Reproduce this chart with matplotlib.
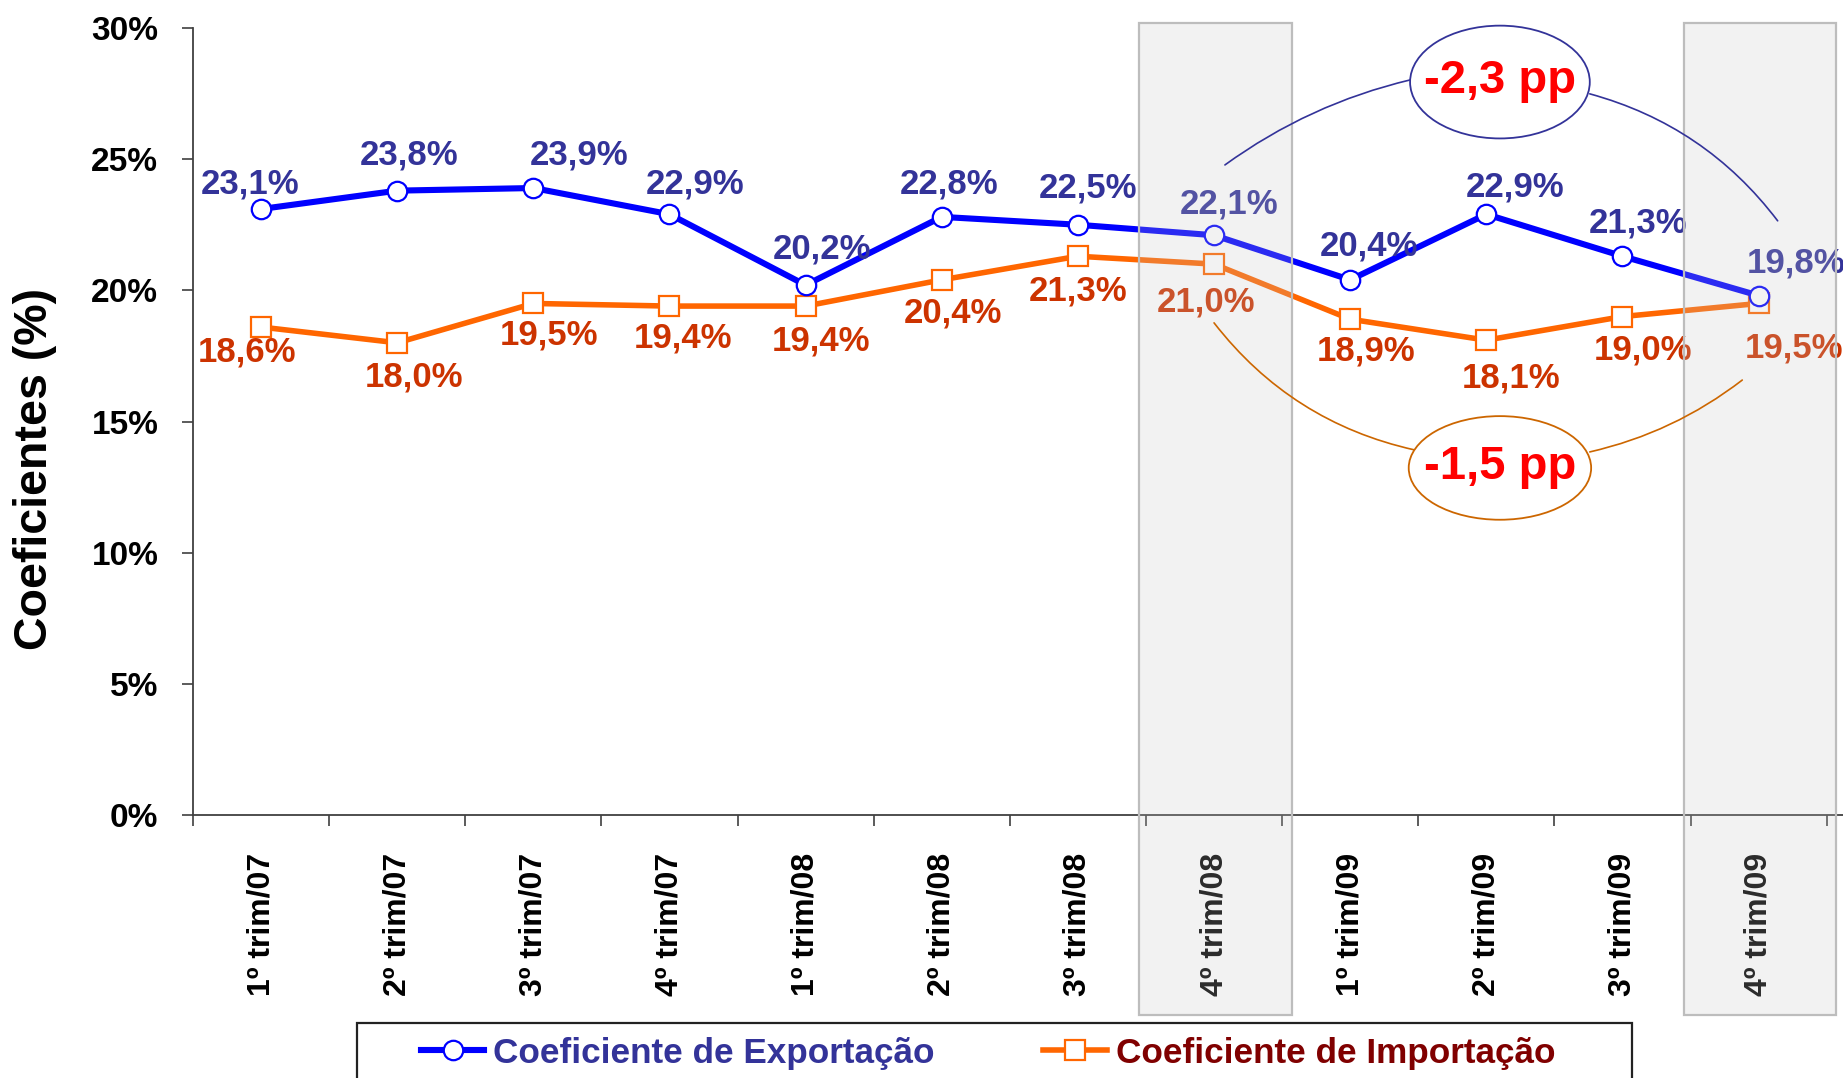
import numpy as np
import matplotlib
matplotlib.use("Agg")
import matplotlib.pyplot as plt
from matplotlib.patches import Rectangle, Ellipse
from matplotlib.transforms import blended_transform_factory

plt.rcParams['font.family'] = ['Liberation Sans', 'DejaVu Sans']
plt.rcParams['font.weight'] = 'bold'

# --- données ---
trimestres = ['1º trim/07', '2º trim/07', '3º trim/07', '4º trim/07',
              '1º trim/08', '2º trim/08', '3º trim/08', '4º trim/08',
              '1º trim/09', '2º trim/09', '3º trim/09', '4º trim/09']
coef_exp = [23.1, 23.8, 23.9, 22.9, 20.2, 22.8, 22.5, 22.1, 20.4, 22.9, 21.3, 19.8]
coef_imp = [18.6, 18.0, 19.5, 19.4, 19.4, 20.4, 21.3, 21.0, 18.9, 18.1, 19.0, 19.5]
destaques = [7, 11]  # trimestres encadrés
var_exp = "-2,3 pp"
var_imp = "-1,5 pp"

# décalage des étiquettes (pixels, x droite / y bas)
off_exp = [(-11, -25), (12, -36), (46, -33), (26, -30), (16, -36), (7, -33),
           (10, -37), (15, -31), (19, -34), (29, -27), (16, -33), (37, -33)]
off_imp = [(-14, 25), (17, 34), (16, 32), (14, 32), (15, 35), (11, 33),
           (0, 35), (-8, 38), (16, 32), (25, 38), (21, 33), (35, 45)]

W, H = 1843, 1078
fig = plt.figure(figsize=(W / 100, H / 100), dpi=100)
ax = fig.add_axes([193 / W, 1 - 815 / H, (W - 193) / W, (815 - 28) / H])

x = np.arange(len(trimestres))
l_exp, = ax.plot(x, coef_exp, color='#0000FF', lw=4.4, marker='o', ms=14,
                 mfc='white', mec='#0000FF', mew=1.6, zorder=4,
                 label='Coeficiente de Exportação')
l_imp, = ax.plot(x, coef_imp, color='#FF6600', lw=4.0, marker='s', ms=14,
                 mfc='white', mec='#FF6600', mew=1.6, zorder=3,
                 label='Coeficiente de Importação')

def fmt(v):
    return f"{v:.1f}".replace('.', ',') + '%'

for i, v in enumerate(coef_exp):
    dx, dy = off_exp[i]
    ax.annotate(fmt(v), xy=(i, v), xytext=(dx, -dy), textcoords='offset pixels',
                ha='center', va='center', fontsize=25, fontweight='bold',
                color='#333399', zorder=5)
for i, v in enumerate(coef_imp):
    dx, dy = off_imp[i]
    ax.annotate(fmt(v), xy=(i, v), xytext=(dx, -dy), textcoords='offset pixels',
                ha='center', va='center', fontsize=25, fontweight='bold',
                color='#CC3300', zorder=5)

# axes
ax.set_xlim(-0.5, 11.62)
ax.set_ylim(0, 30)
ax.set_yticks(np.arange(0, 31, 5))
ax.set_yticklabels([f"{t}%" for t in range(0, 31, 5)], fontsize=24, fontweight='bold')
ax.tick_params(axis='y', length=8, width=1.2, color='#404040', pad=17)
ax.set_xticks(x)
ax.set_xticklabels(trimestres, rotation=90, fontsize=23, fontweight='bold')
ax.set_xticks(np.arange(-0.5, 12, 1), minor=True)
ax.tick_params(axis='x', which='major', length=0, pad=27)
ax.tick_params(axis='x', which='minor', length=8, width=1.2, color='#404040')
for s in ['top', 'right']:
    ax.spines[s].set_visible(False)
for s in ['left', 'bottom']:
    ax.spines[s].set_color('#404040')
    ax.spines[s].set_linewidth(1.3)

fig.text(35 / W, 1 - 469 / H, 'Coeficientes (%)', rotation=90, fontsize=33.5,
         fontweight='bold', ha='center', va='center')

# encadrés gris
tr = blended_transform_factory(ax.transData, fig.transFigure)
for d in destaques:
    ax.add_patch(Rectangle((d - 0.55, 1 - 1015 / H), 1.12, (1015 - 23) / H,
                           transform=tr, clip_on=False, zorder=6,
                           facecolor=(0.78, 0.78, 0.78, 0.22), edgecolor='#bdbdbd', lw=1.6))

# variations
for (cx, cy, w, h, txt, ec) in [(9.10, 27.94, 1.32, 4.3, var_exp, '#333399'),
                                 (9.10, 13.23, 1.34, 3.95, var_imp, '#CC6600')]:
    ax.add_patch(Ellipse((cx, cy), w, h, facecolor='white', edgecolor=ec,
                         lw=1.3, zorder=8, clip_on=False))
    ax.text(cx, cy + 0.05, txt, ha='center', va='center', fontsize=34,
            fontweight='bold', color='#FF0000', zorder=9, clip_on=False)

arcs = [((7.08, 24.78), (8.44, 28.02), -0.10, '#333399'),
        ((9.76, 27.49), (11.14, 22.65), -0.17, '#333399'),
        ((7.00, 18.76), (8.47, 13.92), 0.18, '#CC6600'),
        ((9.76, 13.84), (10.88, 16.58), 0.11, '#CC6600')]
for p0, p1, rad, c in arcs:
    ax.annotate('', xy=p1, xytext=p0, annotation_clip=False, zorder=7,
                arrowprops=dict(arrowstyle='-', color=c, lw=1.2, shrinkA=0, shrinkB=0,
                                connectionstyle=f'arc3,rad={rad}'))

# légende
leg = fig.legend(handles=[l_exp, l_imp], loc='center left',
                 bbox_to_anchor=(421 / W, 1 - 1053 / H), bbox_transform=fig.transFigure,
                 ncol=2, frameon=False, borderpad=0, borderaxespad=0,
                 handlelength=1.8, handletextpad=0.25, columnspacing=3.1,
                 prop={'size': 25.3, 'weight': 'bold'})
leg.get_texts()[0].set_color('#333399')
leg.get_texts()[1].set_color('#800000')
fig.add_artist(Rectangle((357 / W, -0.05), (1632 - 357) / W, (H - 1023) / H + 0.05,
                         transform=fig.transFigure, fill=False, edgecolor='#222222', lw=1.6))

fig.savefig('out.png', dpi=100)
